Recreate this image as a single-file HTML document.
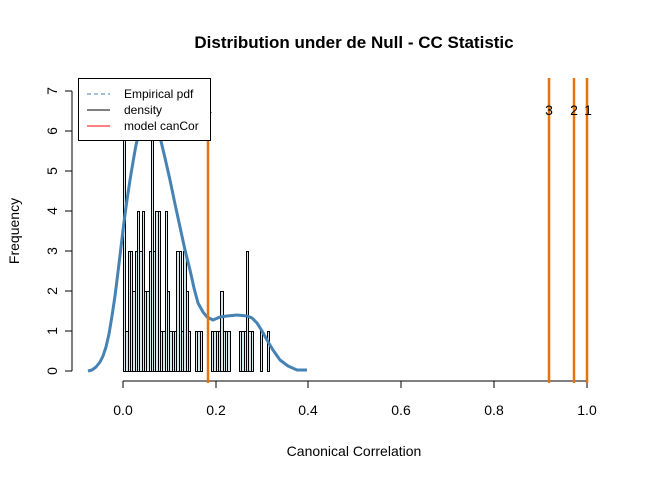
<!DOCTYPE html>
<html><head><meta charset="utf-8"><style>body{margin:0;background:#fff}</style></head><body>
<svg width="672" height="480" xmlns="http://www.w3.org/2000/svg" font-family="Liberation Sans, Arial, sans-serif">
<rect width="672" height="480" fill="#fff"/>
<text x="354" y="48" font-size="17" font-weight="bold" text-anchor="middle">Distribution under de Null - CC Statistic</text>
<text x="354" y="456" font-size="14" text-anchor="middle">Canonical Correlation</text>
<text x="19" y="231" font-size="14" text-anchor="middle" transform="rotate(-90 19 231)">Frequency</text>
<g stroke="#000" stroke-width="1" fill="none" shape-rendering="crispEdges">
<line x1="123" y1="381" x2="587" y2="381"/>
<line x1="123" y1="381" x2="123" y2="388"/><line x1="216" y1="381" x2="216" y2="388"/><line x1="308" y1="381" x2="308" y2="388"/><line x1="401" y1="381" x2="401" y2="388"/><line x1="494" y1="381" x2="494" y2="388"/><line x1="587" y1="381" x2="587" y2="388"/>
<line x1="72" y1="91" x2="72" y2="371"/>
<line x1="65" y1="371" x2="72" y2="371"/><line x1="65" y1="331" x2="72" y2="331"/><line x1="65" y1="291" x2="72" y2="291"/><line x1="65" y1="251" x2="72" y2="251"/><line x1="65" y1="211" x2="72" y2="211"/><line x1="65" y1="171" x2="72" y2="171"/><line x1="65" y1="131" x2="72" y2="131"/><line x1="65" y1="91" x2="72" y2="91"/>
</g>
<g font-size="14" text-anchor="middle">
<text x="123" y="415">0.0</text><text x="216" y="415">0.2</text><text x="308" y="415">0.4</text><text x="401" y="415">0.6</text><text x="494" y="415">0.8</text><text x="587" y="415">1.0</text>
</g>
<g font-size="14" text-anchor="middle">
<text transform="translate(57 371) rotate(-90)">0</text>
<text transform="translate(57 331) rotate(-90)">1</text>
<text transform="translate(57 291) rotate(-90)">2</text>
<text transform="translate(57 251) rotate(-90)">3</text>
<text transform="translate(57 211) rotate(-90)">4</text>
<text transform="translate(57 171) rotate(-90)">5</text>
<text transform="translate(57 131) rotate(-90)">6</text>
<text transform="translate(57 91) rotate(-90)">7</text>
</g>
<g id="bars" fill="#d3e7ea" stroke="#000" stroke-width="1" shape-rendering="crispEdges"></g>
<polyline fill="none" stroke="#4682b4" stroke-width="3" stroke-linejoin="round" points="88,371 92,370 96,367 100,362 103,356 106,347 109,334 112,316 115,296 118,272 121,247 124,222 127,200 130,180 133,162 136,145 140,128 144,117 148,113 152,115 156,124 160,137 165,158 170,180 175,204 180,227 185,250 190,270 194,288 198,303 203,312 207,317 213,320 220,317 227,316 237,315 247,316 252,318 257,323 262,331 267,340 273,350 280,360 288,366 297,370 307,370"/>
<g stroke="#e8720c" stroke-width="2.5">
<line x1="208" y1="78" x2="208" y2="383"/>
<line x1="549" y1="78" x2="549" y2="383"/>
<line x1="574" y1="78" x2="574" y2="383"/>
<line x1="587" y1="78" x2="587" y2="383"/>
</g>
<g font-size="14" text-anchor="middle">
<text x="208" y="115">4</text><text x="549" y="115">3</text><text x="574" y="115">2</text><text x="588" y="115">1</text>
</g>
<rect x="78.5" y="78.5" width="132" height="62" fill="#fff" stroke="#000"/>
<line x1="87" y1="94" x2="110" y2="94" stroke="#4682b4" stroke-dasharray="4,3"/>
<line x1="87" y1="110" x2="110" y2="110" stroke="#000"/>
<line x1="87" y1="126" x2="110" y2="126" stroke="#f00"/>
<g font-size="12"><text x="124" y="98">Empirical pdf</text><text x="124" y="114">density</text><text x="124" y="130">model canCor</text></g>
</svg>
<script>
var h=[6,1,3,3,2,3,4,3,4,2,2,3,6,3,4,4,1,1,4,2,1,1,1,3,3,1,3,2,1,0,0,1,1,1,0,0,0,0,1,1,1,1,2,1,1,1,0,0,0,0,1,1,1,3,1,1,0,0,0,1,0,0,1];
var g=document.getElementById('bars'),s='';
for(var i=0;i<h.length;i++){if(!h[i])continue;var x=Math.round(123+i*2.32)+0.5,x2=Math.round(123+(i+1)*2.32)+0.5;s+='<rect x="'+x+'" y="'+(371.5-h[i]*40)+'" width="'+(x2-x)+'" height="'+(h[i]*40)+'"/>';}
g.innerHTML=s;
</script>
</body></html>
